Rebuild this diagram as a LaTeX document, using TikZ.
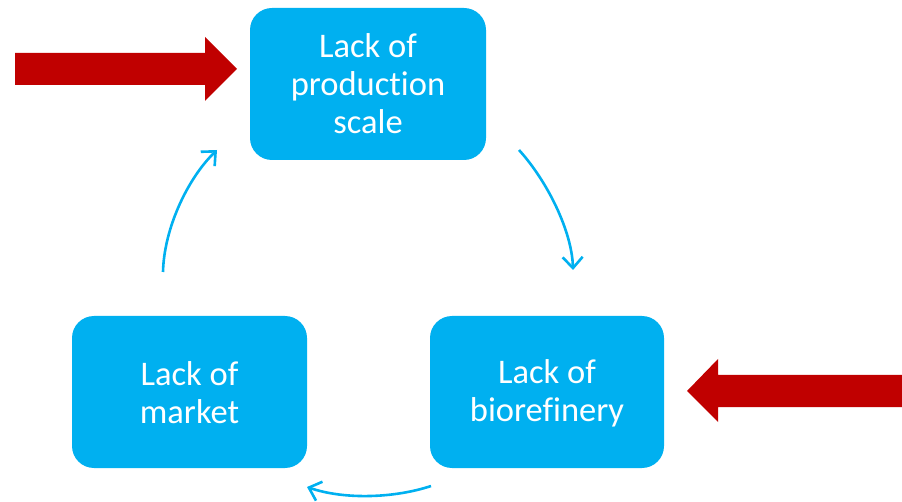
\documentclass[tikz,border=0pt]{standalone}
\usepackage{fontspec}
\setmainfont[Ligatures={NoCommon}]{Carlito}
\usetikzlibrary{arrows.meta}
\definecolor{boxcyan}{RGB}{0,176,240}
\definecolor{arrred}{RGB}{192,0,0}
\tikzset{
  cyclebox/.style={fill=boxcyan, draw=none, rounded corners=22pt},
  boxtext/.style={text=white, align=center, font=\fontsize{34.5}{38}\selectfont},
  cyclearrow/.style={draw=boxcyan, line width=2.6pt, -{Straight Barb[length=11pt,width=20pt,line width=2.6pt]}},
  bigarrow/.style={fill=arrred, draw=none}
}
\begin{document}
\begin{tikzpicture}[x=1pt,y=-1pt]
\useasboundingbox (0,0) rectangle (902,502);
% boxes
\path[cyclebox] (250,8) rectangle (486,160);
\node[boxtext] (top) at (368,84) {Lack of\\production\\scale};
\path[cyclebox] (72,316) rectangle (307,468);
\node[boxtext] (left) at (189.5,393) {Lack of\\market};
\path[cyclebox] (430,316) rectangle (664,468);
\node[boxtext] (right) at (547,393) {Lack of\\biorefinery};
% cycle connectors
\coordinate (a1) at (519,150);
\coordinate (a2) at (573,270);
\coordinate (b1) at (431,486);
\coordinate (b2) at (307,487);
\coordinate (c1) at (163,272);
\coordinate (c2) at (217,150);
\draw[cyclearrow] (a1) .. controls (548,182) and (572,232) .. (a2);
\draw[cyclearrow] (b1) .. controls (395,498) and (345,500) .. (b2);
\draw[cyclearrow] (c1) .. controls (164,228) and (188,178) .. (c2);
% red block arrows
\path[bigarrow] (15,53) -- (205,53) -- (205,37) -- (237,69) -- (205,101) -- (205,85) -- (15,85) -- cycle;
\path[bigarrow] (902,375) -- (718,375) -- (718,359) -- (687,391) -- (718,422) -- (718,407) -- (902,407) -- cycle;
\end{tikzpicture}
\end{document}
